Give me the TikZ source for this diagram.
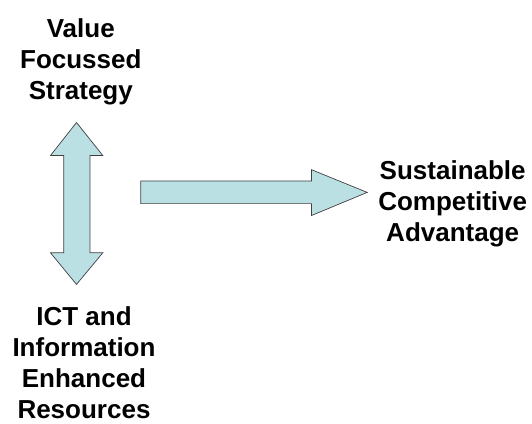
\documentclass[tikz,border=0pt]{standalone}
\usepackage{fontspec}
\setmainfont{Liberation Sans}
\definecolor{arrowfill}{HTML}{BBE0E3}
\definecolor{arrowline}{HTML}{404040}
\begin{document}
\begin{tikzpicture}[x=1pt,y=-1pt,
  label/.style={font=\bfseries\fontsize{26}{31}\selectfont,align=center,inner sep=0pt,anchor=north},
  blockarrow/.style={fill=arrowfill,draw=arrowline,line width=0.7pt,line join=miter}]
\useasboundingbox (0,0) rectangle (532,423);
\node[label] (vfs) at (80.8,18) {Value\\Focussed\\Strategy};
\node[label] (ict) at (84,306.5) {ICT and\\Information\\Enhanced\\Resources};
\node[label] (sca) at (452.7,160) {Sustainable\\Competitive\\Advantage};
% vertical double arrow
\draw[blockarrow] (76.5,122.5) -- (102.8,155.5) -- (89.9,155.5) -- (89.9,252.8) -- (102.8,252.8)
  -- (76.5,284.4) -- (50.5,252.8) -- (63.8,252.8) -- (63.8,155.5) -- (50.5,155.5) -- cycle;
% horizontal arrow
\draw[blockarrow] (140.8,180.9) -- (311.5,180.9) -- (311.5,169.7) -- (367.2,192.4)
  -- (311.5,215.5) -- (311.5,203.6) -- (140.8,203.6) -- cycle;
\end{tikzpicture}
\end{document}
